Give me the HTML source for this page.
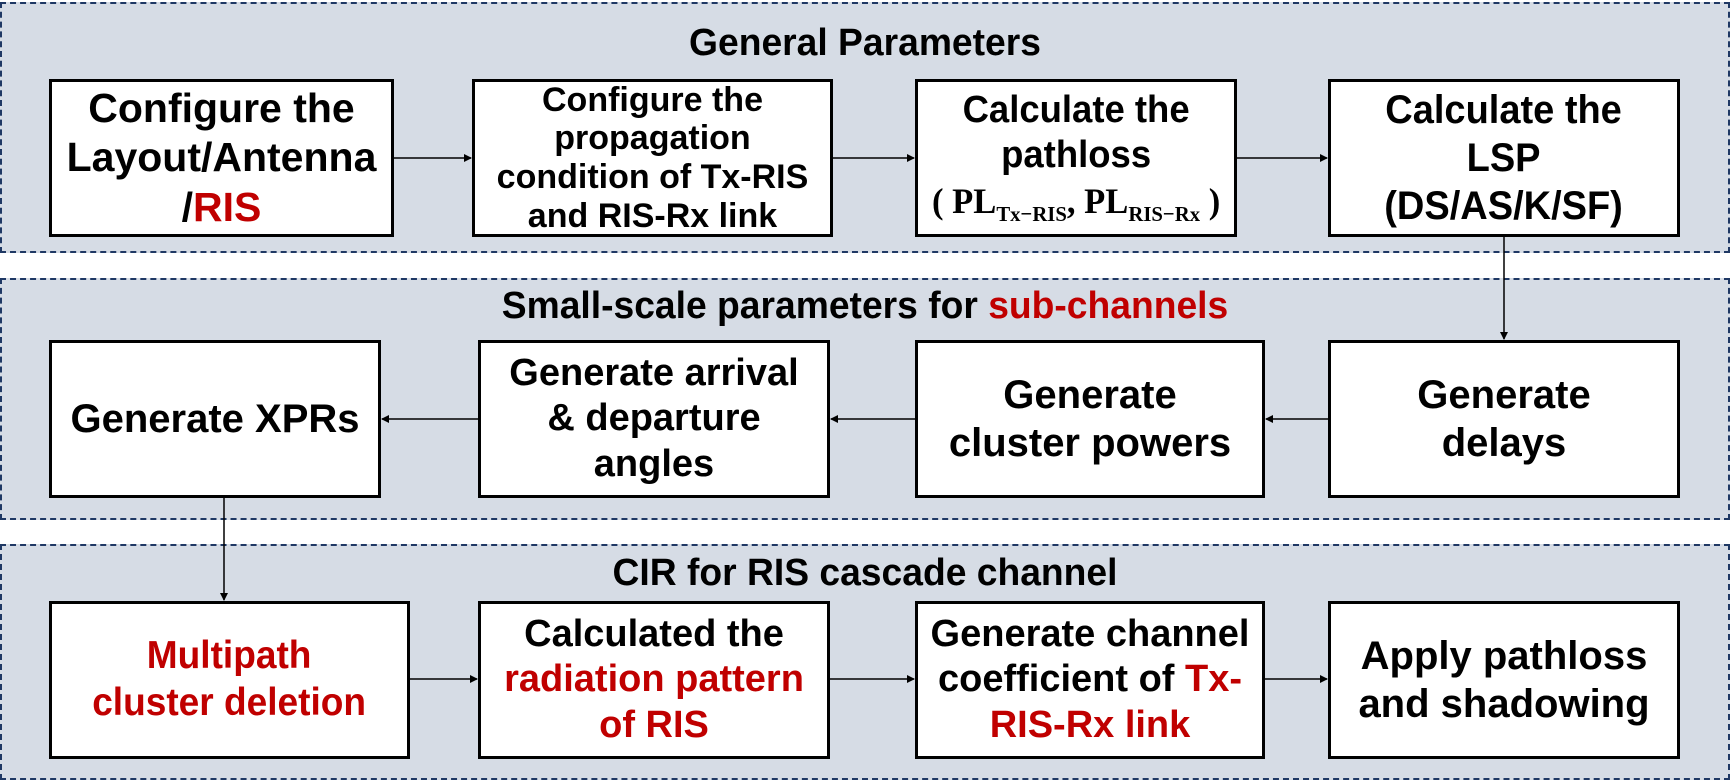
<!DOCTYPE html>
<html><head><meta charset="utf-8"><style>
body{margin:0;width:1730px;height:782px;background:#fff;position:relative;overflow:hidden;font-family:"Liberation Sans",Arial,sans-serif;font-weight:bold;}
.p{position:absolute;background:#d6dce5;border:2px dashed #1f3864;box-sizing:border-box;}
.t{position:absolute;left:0;width:1730px;text-align:center;font-size:38px;color:#000;transform:scaleX(0.98);}
.b{position:absolute;background:#fff;border:3px solid #000;box-sizing:border-box;display:flex;align-items:center;justify-content:center;text-align:center;}
.b>div{line-height:1.2;white-space:nowrap;}
.r{color:#c00000}
svg{position:absolute;left:0;top:0}
.f{font-family:"Liberation Serif",serif;font-weight:bold;}
.f sub{font-size:0.6em}
</style></head><body>
<div class="p" style="left:0;top:2px;width:1730px;height:251px"></div>
<div class="p" style="left:0;top:278px;width:1730px;height:242px"></div>
<div class="p" style="left:0;top:544px;width:1730px;height:236px"></div>
<div class="t" style="top:22px">General Parameters</div>
<div class="t" style="top:285px">Small-scale parameters for <span class="r">sub-channels</span></div>
<div class="t" style="top:552px">CIR for RIS cascade channel</div>

<div class="b" style="left:49px;top:79px;width:345px;height:158px;font-size:41px"><div>Configure the<br>Layout/Antenna<br>/<span class="r">RIS</span></div></div>
<div class="b" style="left:472px;top:79px;width:361px;height:158px;font-size:34px"><div style="line-height:1.14">Configure the<br>propagation<br>condition of Tx-RIS<br>and RIS-Rx link</div></div>
<div class="b" style="left:915px;top:79px;width:322px;height:158px;font-size:38px"><div style="transform:scaleX(0.96)">Calculate the<br>pathloss<br><span class="f" style="font-size:36px">( PL<sub>Tx−RIS</sub>, PL<sub>RIS−Rx</sub> )</span></div></div>
<div class="b" style="left:1328px;top:79px;width:352px;height:158px;font-size:40px"><div style="transform:scaleX(0.95)">Calculate the<br>LSP<br>(DS/AS/K/SF)</div></div>

<div class="b" style="left:49px;top:340px;width:332px;height:158px;font-size:40px"><div>Generate XPRs</div></div>
<div class="b" style="left:478px;top:340px;width:352px;height:158px;font-size:38px"><div>Generate arrival<br>&amp; departure<br>angles</div></div>
<div class="b" style="left:915px;top:340px;width:350px;height:158px;font-size:40px"><div>Generate<br>cluster powers</div></div>
<div class="b" style="left:1328px;top:340px;width:352px;height:158px;font-size:40px"><div>Generate<br>delays</div></div>

<div class="b" style="left:49px;top:601px;width:361px;height:158px;font-size:39px"><div class="r" style="transform:scaleX(0.95)">Multipath<br>cluster deletion</div></div>
<div class="b" style="left:478px;top:601px;width:352px;height:158px;font-size:38px"><div>Calculated the<br><span class="r">radiation pattern<br>of RIS</span></div></div>
<div class="b" style="left:915px;top:601px;width:350px;height:158px;font-size:38px"><div>Generate channel<br>coefficient of <span class="r">Tx-<br>RIS-Rx link</span></div></div>
<div class="b" style="left:1328px;top:601px;width:352px;height:158px;font-size:40px"><div>Apply pathloss<br>and shadowing</div></div>

<svg width="1730" height="782">
<defs><marker id="a" markerWidth="8" markerHeight="8" refX="7" refY="4" orient="auto" markerUnits="userSpaceOnUse"><path d="M0,0 L8,4 L0,8 z" fill="#000"/></marker></defs>
<g stroke="#000" stroke-width="1.5" fill="none" marker-end="url(#a)">
<line x1="394" y1="158" x2="471" y2="158"/>
<line x1="833" y1="158" x2="914" y2="158"/>
<line x1="1237" y1="158" x2="1327" y2="158"/>
<line x1="1504" y1="237" x2="1504" y2="339"/>
<line x1="1328" y1="419" x2="1266" y2="419"/>
<line x1="915" y1="419" x2="831" y2="419"/>
<line x1="478" y1="419" x2="382" y2="419"/>
<line x1="224" y1="498" x2="224" y2="600"/>
<line x1="410" y1="679" x2="477" y2="679"/>
<line x1="830" y1="679" x2="914" y2="679"/>
<line x1="1265" y1="679" x2="1327" y2="679"/>
</g></svg>
</body></html>
